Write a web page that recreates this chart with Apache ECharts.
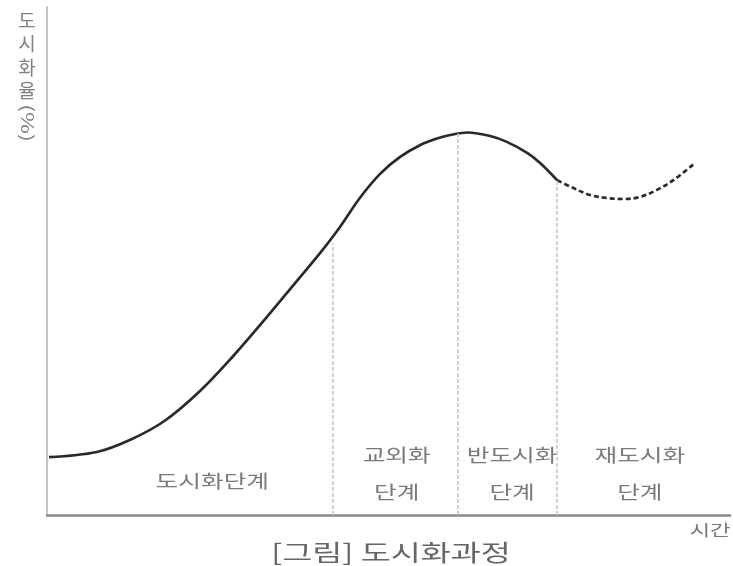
<!DOCTYPE html>
<html>
<head>
<meta charset="utf-8">
<script src="https://cdn.jsdelivr.net/npm/echarts@6/dist/echarts.min.js"></script>
<style>
html,body{margin:0;padding:0;background:#fff;}
#chart{width:733px;height:566px;}
</style>
</head>
<body>
<div id="chart"></div>
<script>
// Urbanization curve (time 0-100, urbanization rate 0-100)
const solidTime = [0.3, 7.3, 12.2, 17.3, 22.4, 27.2, 31.9, 36.6, 40.0, 42.9, 45.8, 48.8, 51.7, 54.6, 57.1, 59.4, 61.6, 64.9, 67.4, 70.3, 72.2, 74.7];
const solidRate = [11.4, 12.4, 14.8, 18.6, 24.4, 31.2, 38.5, 46.1, 51.6, 56.7, 62.4, 67.2, 70.5, 72.8, 74.1, 74.9, 75.3, 74.6, 73.4, 71.3, 69.3, 65.9];
const dashedTime = [74.7, 77.0, 79.5, 82.0, 84.3, 86.8, 89.3, 91.7, 94.9];
const dashedRate = [65.9, 64.4, 63.0, 62.4, 62.2, 62.6, 64.0, 65.9, 69.3];
// Stage boundaries
const boundaryTime = [41.9, 60.2, 74.7];
const boundaryRate = [53.5, 75.1, 65.9];
// Stage labels
const stageLine1 = ['도시화단계', '교외화', '반도시화', '재도시화'];
const stageLine2 = ['', '단계', '단계', '단계'];
const stageLabelTime = [24.2, 51.2, 68.1, 86.8];
const yAxisName = '도시화율';
const yAxisUnit = '(%)';
const xAxisName = '시간';
const caption = '[그림] 도시화과정';

const FONT = '"Noto Sans CJK KR", "Noto Sans", sans-serif';
const chart = echarts.init(document.getElementById('chart'));

const pair = (xs, ys) => xs.map((x, i) => [x, ys[i]]);

chart.setOption({
  animation: false,
  backgroundColor: '#fff',
  grid: { left: 47, right: 3, top: 7, bottom: 51 },
  xAxis: {
    type: 'value', min: 0, max: 100,
    axisLine: { show: true, lineStyle: { color: '#8a8a8a', width: 2.5 } },
    axisTick: { show: false }, axisLabel: { show: false }, splitLine: { show: false }
  },
  yAxis: {
    type: 'value', min: 0, max: 100,
    axisLine: { show: true, lineStyle: { color: '#c4c4c4', width: 2 } },
    axisTick: { show: false }, axisLabel: { show: false }, splitLine: { show: false }
  },
  series: [
    {
      type: 'line', data: pair(solidTime, solidRate), smooth: 0.35, showSymbol: false,
      lineStyle: { color: '#2a2a2a', width: 2.7 },
      markLine: {
        silent: true, symbol: 'none', label: { show: false },
        lineStyle: { color: '#c8c8c8', width: 1.6, type: [4, 2] },
        data: boundaryTime.map((t, i) => [{ coord: [t, 0] }, { coord: [t, boundaryRate[i]] }])
      }
    },
    {
      type: 'line', data: pair(dashedTime, dashedRate), smooth: 0.35, showSymbol: false,
      lineStyle: { color: '#2a2a2a', width: 2.7, type: [5, 3] }
    }
  ]
});

function stageText(x, y, text) {
  return { type: 'text', x: x, y: y, scaleX: 1.37, style: { text: text, font: '18px ' + FONT, fill: '#7a7a7a', align: 'center', verticalAlign: 'middle' } };
}

function placeTexts() {
  const g = [];
  stageLabelTime.forEach((t, i) => {
    if (stageLine2[i]) {
      const p1 = chart.convertToPixel({ gridIndex: 0 }, [t, 11.8]);
      const p2 = chart.convertToPixel({ gridIndex: 0 }, [t, 4.5]);
      g.push(stageText(p1[0], p1[1], stageLine1[i]));
      g.push(stageText(p2[0], p2[1], stageLine2[i]));
    } else {
      const p = chart.convertToPixel({ gridIndex: 0 }, [t, 6.7]);
      g.push(stageText(p[0], p[1], stageLine1[i]));
    }
  });
  // vertical y-axis name: upright stacked glyphs
  g.push({ type: 'text', x: 27, y: 9, style: { text: yAxisName.split('').join('\n'), font: '19px ' + FONT, lineHeight: 23.5, fill: '#808080', align: 'center', verticalAlign: 'top' } });
  g.push({ type: 'text', x: 27, y: 123, rotation: -Math.PI / 2, scaleX: 1.4, style: { text: yAxisUnit, font: '17px ' + FONT, fill: '#808080', align: 'center', verticalAlign: 'middle' } });
  g.push({ type: 'text', x: 710, y: 530, scaleX: 1.4, style: { text: xAxisName, font: '16px ' + FONT, fill: '#7a7a7a', align: 'center', verticalAlign: 'middle' } });
  g.push({ type: 'text', x: 391, y: 552, scaleX: 1.42, style: { text: caption, font: '23px ' + FONT, fill: '#666', align: 'center', verticalAlign: 'middle' } });
  chart.setOption({ graphic: g });
}
placeTexts();
</script>
</body>
</html>
